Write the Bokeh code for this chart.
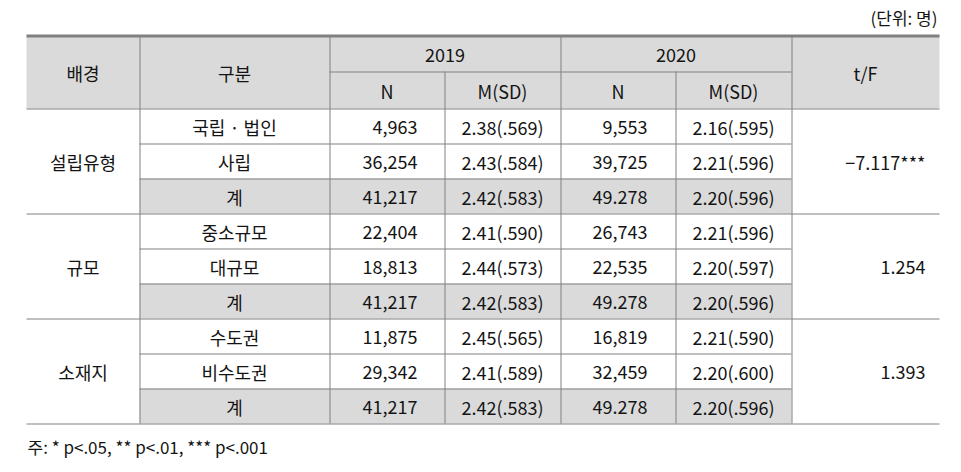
from bokeh.plotting import figure
from bokeh.models import Range1d, ColumnDataSource
from bokeh.core.properties import value
from bokeh.embed import file_html
from bokeh.resources import INLINE

# ---------------- data ----------------
unit_label = "(단위: 명)"
note_label = "주: * p<.05, ** p<.01, *** p<.001"
header_top = ["배경", "구분", "2019", "2020", "t/F"]
header_sub = ["N", "M(SD)", "N", "M(SD)"]
backgrounds = ["설립유형", "규모", "소재지"]
subgroups = ["국립 · 법인", "사립", "계", "중소규모", "대규모", "계", "수도권", "비수도권", "계"]
n2019 = ["4,963", "36,254", "41,217", "22,404", "18,813", "41,217", "11,875", "29,342", "41,217"]
m2019 = ["2.38(.569)", "2.43(.584)", "2.42(.583)", "2.41(.590)", "2.44(.573)", "2.42(.583)",
         "2.45(.565)", "2.41(.589)", "2.42(.583)"]
n2020 = ["9,553", "39,725", "49.278", "26,743", "22,535", "49.278", "16,819", "32,459", "49.278"]
m2020 = ["2.16(.595)", "2.21(.596)", "2.20(.596)", "2.21(.596)", "2.20(.597)", "2.20(.596)",
         "2.21(.590)", "2.20(.600)", "2.20(.596)"]
tf_values = ["−7.117***", "1.254", "1.393"]

# ---------------- layout ----------------
W, H = 945, 464
FONT = value("Noto Sans CJK KR")
FS = "18px"
TXT = "#141414"
LINE = "#808080"
FILL = "#dadada"

cols = [26, 139, 329, 444, 560, 675, 791, 939]
y_top = 35
y_h1 = 71
y_h2 = 108
row_h = 35
n_rows = len(subgroups)
row_y = [y_h2 + i * row_h for i in range(n_rows + 1)]

p = figure(width=W, height=H, x_range=Range1d(0, W), y_range=Range1d(H, 0),
           output_backend="svg", toolbar_location=None, min_border=0)
p.axis.visible = False
p.grid.visible = False
p.outline_line_color = None
p.background_fill_color = "white"
p.border_fill_color = "white"

# header fill
p.quad(left=[cols[0]], right=[cols[-1]], top=[y_top], bottom=[y_h2],
       fill_color=FILL, line_color=None)
# total rows fill
tot_idx = [i for i, s in enumerate(subgroups) if s == "계"]
p.quad(left=[cols[1]] * len(tot_idx), right=[cols[6]] * len(tot_idx),
       top=[row_y[i] for i in tot_idx], bottom=[row_y[i + 1] for i in tot_idx],
       fill_color=FILL, line_color=None)

# horizontal lines
x0s, x1s, ys = [], [], []
x0s.append(cols[2]); x1s.append(cols[6]); ys.append(y_h1 + 0.5)
x0s.append(cols[0]); x1s.append(cols[-1]); ys.append(y_h2 + 0.5)
for i in range(1, n_rows + 1):
    if i % 3 == 0:
        x0s.append(cols[0]); x1s.append(cols[-1])
    else:
        x0s.append(cols[1]); x1s.append(cols[6])
    ys.append(row_y[i] + 0.5)
p.segment(x0=x0s, x1=x1s, y0=ys, y1=ys, line_color=LINE, line_width=1)
# top thick line
p.segment(x0=[cols[0]], x1=[cols[-1]], y0=[y_top + 0.5], y1=[y_top + 0.5],
          line_color=LINE, line_width=3)

# vertical lines
vx, vy0 = [], []
for c in [cols[1], cols[2], cols[4], cols[6]]:
    vx.append(c + 0.5); vy0.append(y_top + 1.5)
for c in [cols[3], cols[5]]:
    vx.append(c + 0.5); vy0.append(y_h1)
p.segment(x0=vx, x1=vx, y0=vy0, y1=[row_y[-1]] * len(vx), line_color=LINE, line_width=1)

def txt(xs, ys, texts, align="center", fs=FS):
    src = ColumnDataSource(dict(x=xs, y=ys, t=texts))
    p.text(x="x", y="y", text="t", source=src, text_font=FONT, text_font_size=fs,
           text_color=TXT, text_align=align, text_baseline="middle")

mid = lambda a, b: (a + b) / 2
# headers
hy = mid(y_top, y_h2) + 1
txt([mid(cols[0], cols[1]), mid(cols[1], cols[2]), mid(cols[6], cols[7])], [hy] * 3,
    [header_top[0], header_top[1], header_top[4]])
txt([mid(cols[2], cols[4]), mid(cols[4], cols[6])], [mid(y_top, y_h1) + 1] * 2,
    [header_top[2], header_top[3]])
txt([mid(cols[2], cols[3]), mid(cols[3], cols[4]), mid(cols[4], cols[5]), mid(cols[5], cols[6])],
    [mid(y_h1, y_h2) + 1] * 4, header_sub)

# body
ry = [mid(row_y[i], row_y[i + 1]) + 1 for i in range(n_rows)]
txt([mid(cols[1], cols[2])] * n_rows, ry, subgroups)
txt([cols[3] - 27] * n_rows, ry, n2019, align="right")
txt([mid(cols[3], cols[4])] * n_rows, ry, m2019)
txt([cols[5] - 28] * n_rows, ry, n2020, align="right")
txt([mid(cols[5], cols[6])] * n_rows, ry, m2020)
gy = [ry[3 * g + 1] for g in range(len(backgrounds))]
txt([mid(cols[0], cols[1])] * len(backgrounds), gy, backgrounds)
txt([cols[7] - 14] * len(tf_values), gy, tf_values, align="right")

# unit and note
txt([937], [17], [unit_label], align="right", fs="17px")
txt([27], [446], [note_label], align="left", fs="17px")

open("out.html", "w").write(file_html(p, INLINE))
